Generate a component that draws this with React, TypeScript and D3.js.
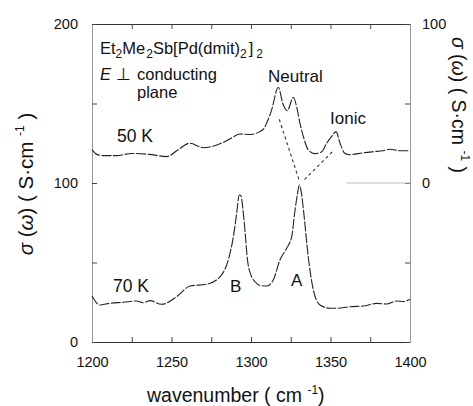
import React, { useEffect, useRef } from 'react';
import * as d3 from 'd3';

// 50 K spectrum (read against the right axis)
const wn50 = [1200, 1203, 1207, 1215, 1225, 1236, 1247, 1254, 1261.5, 1270, 1282, 1288, 1293, 1300, 1305, 1308, 1310, 1313, 1317.2, 1320, 1322.8, 1326.6, 1328.7, 1330.8, 1333, 1336, 1340, 1344.5, 1347.6, 1350.5, 1353.5, 1356, 1359, 1362, 1370.6, 1377, 1383, 1387.4, 1393.7, 1400];
const sig50 = [21, 18, 17.2, 17.2, 18.6, 18, 16.6, 20.8, 25, 22.2, 25.3, 28.5, 30.8, 30.5, 32, 34, 38, 46, 60.2, 50, 45.5, 53.9, 48, 37.5, 29, 20.8, 18.5, 19.7, 25, 29, 32.3, 25, 18.7, 17.8, 19, 19.7, 20.3, 21.2, 20.3, 20.3];

// 70 K spectrum (read against the left axis)
const wn70 = [1200, 1205, 1211, 1219.7, 1228, 1232, 1236.5, 1243.8, 1253.3, 1261.6, 1272, 1280.5, 1285.7, 1288.9, 1291, 1292.6, 1293.6, 1295.6, 1298, 1300, 1302.5, 1306, 1309.9, 1314, 1318.2, 1322.4, 1325.6, 1327.7, 1329.2, 1330.4, 1331.5, 1333, 1336, 1339.2, 1343.4, 1349.7, 1353.9, 1362.3, 1370.6, 1379, 1385.3, 1391.6, 1396, 1400];
const sig70 = [28.9, 23.3, 24.3, 25, 25.8, 24.7, 26, 23.7, 28.5, 35.2, 36.3, 41, 51.6, 66.2, 81, 92.5, 92, 76.7, 50, 42, 37.9, 35.5, 35.2, 39, 51.6, 58.9, 66.2, 83, 93, 98.7, 95, 83, 53.6, 32.7, 23.3, 21.2, 21.2, 22.2, 22.6, 24.3, 23.9, 25.8, 25.5, 26.9];

// dotted guides Neutral -> A, Ionic -> A (right axis)
const guideWn = [[1317.8, 1330.5], [1351, 1333.5]];
const guideSig = [[40, 1], [19.5, 2]];
const zeroLineWn = [1360, 1400];

const xTicks = [1200, 1225, 1250, 1275, 1300, 1325, 1350, 1375, 1400];
const xLabels = ['1200', '1250', '1300', '1350', '1400'];
const yLeftTicks = [0, 50, 100, 150, 200];
const yLeftLabels = ['0', '100', '200'];
const yRightTicks = [-100, -50, 0, 50, 100];
const yRightLabels = ['0', '100'];

const font = 'Liberation Sans, Arial, Helvetica, sans-serif';

const App = () => {
    const svgRef = useRef<SVGSVGElement>(null);

    useEffect(() => {
        const svg = d3.select(svgRef.current);
        svg.selectAll('*').remove();

        const x = d3.scaleLinear().domain([1200, 1400]).range([92, 410]);
        const yL = d3.scaleLinear().domain([0, 200]).range([342, 24]);
        const yR = d3.scaleLinear().domain([-100, 100]).range([342, 24]);

        const fmt = (labels: string[]) => (d: any) => (labels.includes(String(d)) ? String(d) : '');

        const styleAxis = (g: any, domainColor: string) => {
            g.attr('font-family', font).attr('font-size', 14.5);
            g.select('.domain').attr('stroke', domainColor).attr('stroke-width', 1);
            g.selectAll('.tick line').attr('stroke', '#444');
            g.selectAll('.tick text').attr('fill', '#111');
        };

        // axes
        svg.append('g')
            .attr('transform', 'translate(0,342)')
            .call(d3.axisBottom(x).tickValues(xTicks).tickFormat(fmt(xLabels)).tickSizeInner(-5).tickSizeOuter(0).tickPadding(15))
            .call(g => styleAxis(g, '#333'));

        svg.append('g')
            .attr('transform', 'translate(0,24)')
            .call(d3.axisTop(x).tickValues(xTicks).tickFormat(() => '').tickSizeInner(-5).tickSizeOuter(0))
            .call(g => styleAxis(g, '#333'));

        svg.append('g')
            .attr('transform', 'translate(92,0)')
            .call(d3.axisLeft(yL).tickValues(yLeftTicks).tickFormat(fmt(yLeftLabels)).tickSizeInner(-5).tickSizeOuter(0).tickPadding(14))
            .call(g => styleAxis(g, '#999'));

        svg.append('g')
            .attr('transform', 'translate(410,0)')
            .call(d3.axisRight(yR).tickValues(yRightTicks).tickFormat(fmt(yRightLabels)).tickSizeInner(-5).tickSizeOuter(0).tickPadding(12))
            .call(g => styleAxis(g, '#999'));

        // zero line of the 50 K curve
        svg.append('line')
            .attr('x1', x(zeroLineWn[0]))
            .attr('x2', x(zeroLineWn[1]))
            .attr('y1', yR(0))
            .attr('y2', yR(0))
            .attr('stroke', '#bbb')
            .attr('stroke-width', 1.2);

        // spectra
        const line50 = d3.line<number>()
            .x((d, i) => x(wn50[i]))
            .y(d => yR(d))
            .curve(d3.curveMonotoneX);
        const line70 = d3.line<number>()
            .x((d, i) => x(wn70[i]))
            .y(d => yL(d))
            .curve(d3.curveMonotoneX);

        svg.append('path')
            .attr('d', line50(sig50))
            .attr('fill', 'none')
            .attr('stroke', '#222')
            .attr('stroke-width', 1.1)
            .attr('stroke-dasharray', '10,1.6');

        svg.append('path')
            .attr('d', line70(sig70))
            .attr('fill', 'none')
            .attr('stroke', '#222')
            .attr('stroke-width', 1.1)
            .attr('stroke-dasharray', '10,1.6');

        // dotted guides
        guideWn.forEach((w, k) => {
            svg.append('line')
                .attr('x1', x(w[0]))
                .attr('y1', yR(guideSig[k][0]))
                .attr('x2', x(w[1]))
                .attr('y2', yR(guideSig[k][1]))
                .attr('stroke', '#333')
                .attr('stroke-width', 1.1)
                .attr('stroke-dasharray', '3,3');
        });

        const label = (tx: number, ty: number, s: string, size = 17) =>
            svg.append('text')
                .attr('x', tx)
                .attr('y', ty)
                .attr('font-family', font)
                .attr('font-size', size)
                .attr('fill', '#111')
                .text(s);

        // formula
        const f = svg.append('text')
            .attr('x', 100)
            .attr('y', 54)
            .attr('font-family', font)
            .attr('font-size', 16.5)
            .attr('fill', '#111');
        f.append('tspan').text('Et');
        f.append('tspan').attr('font-size', 12).attr('dy', 4).text('2');
        f.append('tspan').attr('dy', -4).text('Me');
        f.append('tspan').attr('font-size', 12).attr('dy', 4).attr('dx', 1).text('2');
        f.append('tspan').attr('dy', -4).text('Sb[Pd(dmit)');
        f.append('tspan').attr('font-size', 12).attr('dy', 4).text('2');
        f.append('tspan').attr('dy', -4).attr('dx', 2).text(']');
        f.append('tspan').attr('font-size', 12).attr('dy', 4).attr('dx', 3).text('2');

        const e = svg.append('text')
            .attr('x', 100)
            .attr('y', 80)
            .attr('font-family', font)
            .attr('font-size', 16.5)
            .attr('fill', '#111');
        e.append('tspan').attr('font-style', 'italic').text('E');
        e.append('tspan').attr('x', 116).text('\u22A5');
        e.append('tspan').attr('x', 137).text('conducting');
        label(137, 98, 'plane', 16.5);

        label(117, 142, '50 K', 17.5);
        label(113, 292, '70 K', 17.5);
        label(230, 292, 'B');
        label(291, 286, 'A');
        label(268, 82, 'Neutral');
        label(330, 124, 'Ionic');

        // x title
        const xt = svg.append('text')
            .attr('x', 147)
            .attr('y', 402)
            .attr('font-family', font)
            .attr('font-size', 19.5)
            .attr('fill', '#111');
        xt.append('tspan').text('wavenumber ( cm ');
        xt.append('tspan').attr('font-size', 12).attr('dy', -8).text('-1');
        xt.append('tspan').attr('dy', 8).text(')');

        // y titles
        const yTitle = (tx: number, ty: number, rot: number, size: number) => {
            const t = svg.append('text')
                .attr('transform', `translate(${tx},${ty}) rotate(${rot})`)
                .attr('text-anchor', 'middle')
                .attr('font-family', font)
                .attr('font-size', size)
                .attr('fill', '#111');
            t.append('tspan').attr('font-style', 'italic').text('\u03C3');
            t.append('tspan').text(' (');
            t.append('tspan').attr('font-style', 'italic').text('\u03C9');
            t.append('tspan').text(') ( S\u00B7cm ');
            t.append('tspan').attr('font-size', 12).attr('dy', -9).text('-1');
            t.append('tspan').attr('dy', 9).text(' )');
        };
        yTitle(33, 184, -90, 20.5);
        yTitle(452, 105, 90, 19.5);
    }, []);

    return (
        <svg
            ref={svgRef}
            width={473}
            height={406}
            style={{ position: 'absolute', left: 0, top: 0, background: '#fff' }}
        ></svg>
    );
};

export default App;
